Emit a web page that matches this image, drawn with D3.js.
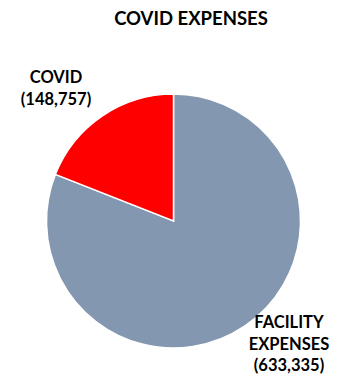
<!DOCTYPE html>
<html>
<head>
<meta charset="utf-8">
<script src="https://cdn.jsdelivr.net/npm/d3@7"></script>
<style>
  body { margin: 0; background: #fff; }
  text { font-family: Lato, "Open Sans", sans-serif; font-weight: bold; fill: #000; }
</style>
</head>
<body>
<div id="chart"></div>
<script>
var width = 344, height = 377;

// data
var categories = ["FACILITY EXPENSES", "COVID"];
var values = [633335, 148757];
var labelLines = [["FACILITY", "EXPENSES", "(633,335)"], ["COVID", "(148,757)"]];
var colors = ["#8497B0", "#FF0000"];

var cx = 173.5, cy = 221, radius = 127;

var svg = d3.select("#chart").append("svg")
    .attr("width", width)
    .attr("height", height);

svg.append("text")
    .attr("x", 191)
    .attr("y", 25)
    .attr("text-anchor", "middle")
    .attr("font-size", "18.5px")
    .text("COVID EXPENSES");

var pie = d3.pie().sort(null).value(function(d){ return d; });
var arc = d3.arc().innerRadius(0).outerRadius(radius);

var g = svg.append("g")
    .attr("transform", "translate(" + cx + "," + cy + ")");

g.selectAll("path")
    .data(pie(values))
    .enter().append("path")
    .attr("d", arc)
    .attr("fill", function(d, i){ return colors[i]; })
    .attr("stroke", "#fff")
    .attr("stroke-width", 1.5);

// label positions (outside the pie)
var labelPos = [[289, 328], [56, 83]];
var lineH = 21.5;

labelLines.forEach(function(lines, i){
    var t = svg.append("text")
        .attr("text-anchor", "middle")
        .attr("font-size", "16.5px");
    lines.forEach(function(s, j){
        t.append("tspan")
            .attr("x", labelPos[i][0])
            .attr("y", labelPos[i][1] + j * lineH)
            .text(s);
    });
});
</script>
</body>
</html>
